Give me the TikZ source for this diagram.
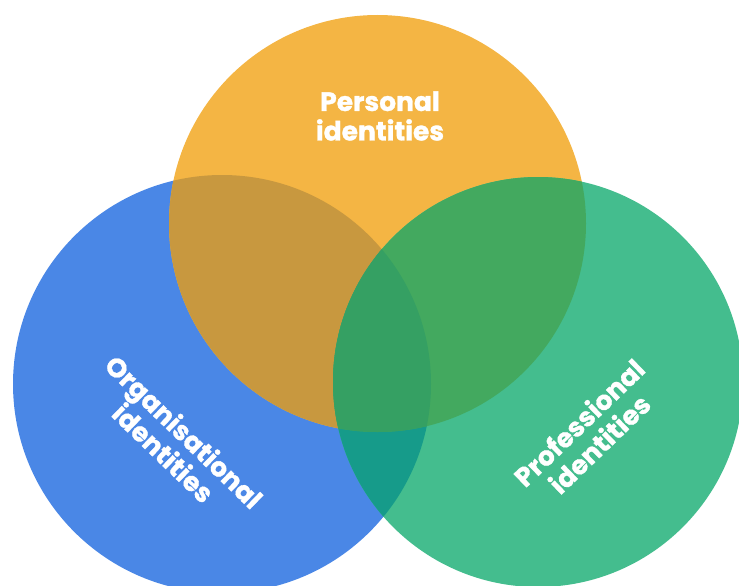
\documentclass[tikz,border=0pt]{standalone}
\usepackage{fontspec}
\setmainfont{Poppins}[Ligatures=NoCommon,BoldFeatures={FakeBold=1.2}]
\definecolor{cB}{HTML}{4A87E6}
\definecolor{cY}{HTML}{F4B544}
\definecolor{cG}{HTML}{44BD8E}
\definecolor{cBY}{HTML}{C8983F}
\definecolor{cYG}{HTML}{43A95F}
\definecolor{cBG}{HTML}{169B8A}
\definecolor{cBYG}{HTML}{35A063}
\tikzset{lab/.style={text=white,font=\bfseries\fontsize{26.5}{29.5}\selectfont,align=center,inner sep=0pt}}
\begin{document}
\begin{tikzpicture}[x=1pt,y=-1pt]
\useasboundingbox (0,0) rectangle (739,586);
\clip (0,0) rectangle (739,586);
\coordinate (B) at (222,384);
\coordinate (Y) at (377.5,223.5);
\coordinate (G) at (538,382);
\def\cirB{(B) circle[radius=209pt]}
\def\cirY{(Y) circle[radius=208.5pt]}
\def\cirG{(G) circle[radius=205pt]}
\fill[cB] \cirB;
\fill[cY] \cirY;
\fill[cG] \cirG;
\begin{scope}\clip \cirB; \fill[cBY] \cirY; \fill[cBG] \cirG; \end{scope}
\begin{scope}\clip \cirY; \fill[cYG] \cirG; \end{scope}
\begin{scope}\clip \cirB; \clip \cirY; \fill[cBYG] \cirG; \end{scope}
\node[lab] (p) at (380,116) {Personal\\identities};
\node[lab,rotate=-44] (o) at (174,442) {Organisational\\identities};
\node[lab,rotate=44] (r) at (589,433) {Professional\\identities};
\end{tikzpicture}
\end{document}
